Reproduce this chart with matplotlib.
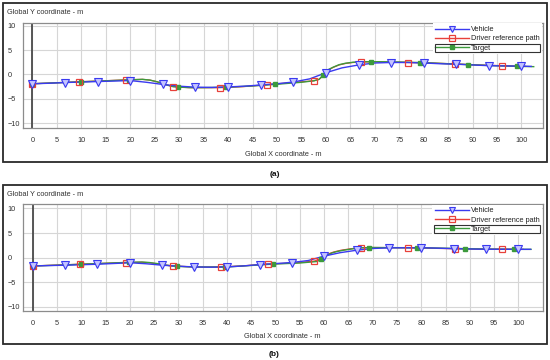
import matplotlib
matplotlib.use('Agg')
import matplotlib.pyplot as plt
from matplotlib.lines import Line2D
from matplotlib.patches import Rectangle

plt.rcParams['font.family'] = ['Liberation Sans', 'DejaVu Sans']

# ---------------- data ----------------
x_ticks = [0, 5, 10, 15, 20, 25, 30, 35, 40, 45, 50, 55, 60, 65, 70, 75, 80, 85, 90, 95, 100]
y_ticks = [-10, -5, 0, 5, 10]
series_names = ["Vehicle", "Driver reference path", "Target"]
x_title = "Global X coordinate - m"
y_title = "Global Y coordinate - m"
panel_labels = ["(a)", "(b)"]

# Panel (a)
veh_a_x = [0, 3.3, 6.7, 10, 13.3, 16.7, 20, 23.3, 26.7, 30, 33.3, 36.7, 40, 43.3, 46.7, 50,
           53.3, 56.7, 60, 63.3, 66.7, 70, 73.3, 76.7, 80, 83.3, 86.7, 90, 93.3, 96.7, 100, 102]
veh_a_y = [-1.9, -1.8, -1.65, -1.55, -1.45, -1.35, -1.25, -1.6, -2.05, -2.4, -2.6, -2.65, -2.55,
           -2.4, -2.15, -1.9, -1.55, -0.9, 0.35, 1.35, 1.95, 2.35, 2.45, 2.45, 2.35, 2.2, 2.1,
           1.95, 1.8, 1.75, 1.7, 1.65]
veh_a_mark_x = [0, 6.7, 13.3, 20, 26.7, 33.3, 40, 46.7, 53.3, 60, 66.7, 73.3, 80, 86.7, 93.3, 100]
veh_a_mark_y = [-1.9, -1.65, -1.45, -1.25, -2.05, -2.6, -2.55, -2.15, -1.55, 0.35, 1.95, 2.45,
                2.35, 2.1, 1.8, 1.7]

drv_a_x = [0, 9.6, 19.2, 22.5, 24, 25.5, 27, 28.8, 32, 35, 38.4, 43, 48, 52.5, 55, 57.6, 58.6,
           59.5, 60.5, 61.5, 62.7, 64, 65.5, 67.2, 70, 76.8, 81.6, 86.4, 91, 96, 100.8]
drv_a_y = [-1.9, -1.5, -1.1, -1.0, -1.15, -1.5, -2.0, -2.5, -2.7, -2.7, -2.7, -2.5, -2.1, -1.7,
           -1.5, -1.3, -1.0, -0.2, 0.9, 1.45, 1.95, 2.25, 2.45, 2.55, 2.6, 2.45, 2.35, 2.15, 1.95,
           1.8, 1.65]
drv_a_mark_x = [0, 9.6, 19.2, 28.8, 38.4, 48.0, 57.6, 67.2, 76.8, 86.4, 96.0]
drv_a_mark_y = [-1.9, -1.5, -1.1, -2.5, -2.7, -2.1, -1.3, 2.55, 2.45, 2.15, 1.8]

tgt_a_x = [0, 5, 10, 15, 20, 22.5, 24, 25.5, 27, 28.5, 30, 32.5, 35, 40, 45, 50, 55, 57.5, 58.6,
           59.5, 60.5, 61.5, 62.7, 64, 65.5, 67, 70, 75, 80, 85, 90, 95, 100, 102.5]
tgt_a_y = [-1.9, -1.7, -1.5, -1.3, -1.1, -1.0, -1.15, -1.5, -2.0, -2.45, -2.6, -2.7, -2.7, -2.6,
           -2.35, -2.0, -1.6, -1.3, -1.0, -0.1, 1.0, 1.5, 2.0, 2.3, 2.5, 2.6, 2.62, 2.55, 2.42,
           2.2, 1.98, 1.78, 1.65, 1.6]
tgt_a_mark_x = [0, 9.9, 19.8, 29.7, 39.6, 49.5, 59.4, 69.3, 79.2, 89.1, 99.0]
tgt_a_mark_y = [-1.9, -1.5, -1.1, -2.55, -2.6, -2.05, -0.1, 2.62, 2.42, 2.0, 1.66]

# Panel (b)
veh_b_x = [0, 3.3, 6.7, 10, 13.3, 16.7, 20, 23.3, 26.7, 30, 33.3, 36.7, 40, 43.3, 46.7, 50,
           53.3, 56.7, 60, 63.3, 66.7, 70, 73.3, 76.7, 80, 83.3, 86.7, 90, 93.3, 96.7, 100, 102.5]
veh_b_y = [-1.7, -1.62, -1.55, -1.45, -1.35, -1.2, -1.05, -1.25, -1.55, -1.75, -1.9, -1.95, -1.9,
           -1.7, -1.42, -1.22, -1.0, -0.6, 0.3, 1.0, 1.5, 1.85, 1.98, 2.0, 2.0, 1.92, 1.82, 1.75,
           1.7, 1.7, 1.68, 1.68]
veh_b_mark_x = [0, 6.7, 13.3, 20, 26.7, 33.3, 40, 46.7, 53.3, 60, 66.7, 73.3, 80, 86.7, 93.3, 100]
veh_b_mark_y = [-1.7, -1.55, -1.35, -1.05, -1.55, -1.9, -1.9, -1.42, -1.0, 0.3, 1.5, 1.98, 2.0,
                1.82, 1.7, 1.68]

drv_b_x = [0, 9.7, 19.3, 22.5, 24, 25.5, 27, 28.9, 32, 35, 38.7, 43, 48.4, 52.5, 55, 58.0,
           59.0, 60.0, 61.0, 62.0, 63.5, 65.5, 67.6, 70, 77.2, 82, 87.0, 92, 96.7, 101]
drv_b_y = [-1.7, -1.35, -1.0, -0.95, -1.05, -1.25, -1.5, -1.7, -1.85, -1.92, -1.9, -1.7, -1.3,
           -1.15, -1.0, -0.7, -0.35, 0.2, 0.8, 1.15, 1.5, 1.8, 2.0, 2.05, 2.0, 1.9, 1.8, 1.72,
           1.7, 1.68]
drv_b_mark_x = [0, 9.7, 19.3, 28.9, 38.7, 48.4, 58.0, 67.6, 77.2, 87.0, 96.7]
drv_b_mark_y = [-1.7, -1.35, -1.0, -1.7, -1.9, -1.3, -0.7, 2.0, 2.0, 1.8, 1.7]

tgt_b_x = [0, 5, 10, 15, 20, 22.5, 24, 25.5, 27, 28.5, 30, 33, 36, 40, 45, 50, 55, 58.5, 59.5,
           60.5, 61.5, 62.5, 64, 66, 68, 70, 75, 80, 85, 90, 95, 100, 102.6]
tgt_b_y = [-1.7, -1.55, -1.35, -1.15, -0.95, -0.9, -1.0, -1.2, -1.45, -1.68, -1.8, -1.9, -1.92,
           -1.9, -1.6, -1.3, -1.1, -0.8, -0.3, 0.4, 0.9, 1.2, 1.5, 1.8, 2.0, 2.05, 2.02, 2.0,
           1.9, 1.8, 1.72, 1.68, 1.68]
tgt_b_mark_x = [0, 9.9, 19.8, 29.7, 39.6, 49.5, 59.4, 69.3, 79.2, 89.1, 99.0]
tgt_b_mark_y = [-1.7, -1.35, -0.95, -1.75, -1.9, -1.3, -0.35, 2.05, 2.0, 1.8, 1.68]

# ---------------- styling ----------------
W, H = 550, 360
FS = 5.3
C_VEH = '#3a3af0'
C_VEH_FACE = '#c4c4ff'
C_DRV = '#e8403a'
C_TGT = '#3c9a3c'
C_GRID = '#d6d6d6'
C_TEXT = '#333333'

fig = plt.figure(figsize=(W / 100, H / 100), dpi=100)
fig.patch.set_facecolor('white')


def fx(px):
    return px / W


def fy(py):
    return 1 - py / H


panels = [
    dict(box=(2.7, 3.3, 546.7, 162.0), plot=(22.7, 22.7, 543.0, 127.7),
         xlim=(-2.0, 104.4), ylim=(-10.9, 10.6), ylab_y=12.7, xlab_y=154.0, cap_y=174.0,
         veh=(veh_a_x, veh_a_y, veh_a_mark_x, veh_a_mark_y),
         drv=(drv_a_x, drv_a_y, drv_a_mark_x, drv_a_mark_y),
         tgt=(tgt_a_x, tgt_a_y, tgt_a_mark_x, tgt_a_mark_y)),
    dict(box=(2.7, 185.0, 546.7, 344.0), plot=(22.7, 204.0, 542.7, 310.7),
         xlim=(-2.06, 105.0), ylim=(-10.8, 10.9), ylab_y=195.0, xlab_y=336.0, cap_y=354.3,
         veh=(veh_b_x, veh_b_y, veh_b_mark_x, veh_b_mark_y),
         drv=(drv_b_x, drv_b_y, drv_b_mark_x, drv_b_mark_y),
         tgt=(tgt_b_x, tgt_b_y, tgt_b_mark_x, tgt_b_mark_y)),
]

legends = []
for i, p in enumerate(panels):
    bx0, by0, bx1, by1 = p['box']
    fig.add_artist(Rectangle((fx(bx0), fy(by1)), (bx1 - bx0) / W, (by1 - by0) / H,
                             transform=fig.transFigure, fill=False, ec='#2a2a2a', lw=1.3))
    l, t, r, b = p['plot']
    ax = fig.add_axes([fx(l), fy(b), (r - l) / W, (b - t) / H])
    ax.set_xlim(*p['xlim'])
    ax.set_ylim(*p['ylim'])
    ax.set_xticks(x_ticks)
    ax.set_yticks(y_ticks)
    ax.grid(True, color=C_GRID, lw=0.8)
    ax.set_axisbelow(True)
    for s in ax.spines.values():
        s.set_color('#8c8c8c')
        s.set_linewidth(0.9)
    ax.axvline(0, color='#4a4a4a', lw=1.3, zorder=1.5)
    ax.tick_params(axis='x', length=0, pad=6.4, labelsize=FS, labelcolor=C_TEXT)
    ax.tick_params(axis='y', length=0, pad=10.9, labelsize=FS, labelcolor=C_TEXT)
    for lab in ax.get_yticklabels():
        lab.set_horizontalalignment('left')

    vx, vy, vmx, vmy = p['veh']
    dx, dy, dmx, dmy = p['drv']
    tx, ty, tmx, tmy = p['tgt']
    ax.plot(dx, dy, color=C_DRV, lw=0.9, zorder=2)
    ax.plot(tx, ty, color=C_TGT, lw=1.0, zorder=3)
    ax.plot(vx, vy, color=C_VEH, lw=1.0, zorder=4)
    ax.plot(tmx, tmy, ls='none', marker='s', ms=2.6, mfc=C_TGT, mec=C_TGT, zorder=5)
    ax.plot(dmx, dmy, ls='none', marker='s', ms=5.0, mfc='none', mec=C_DRV, mew=0.9, zorder=6)
    ax.plot(vmx, vmy, ls='none', marker='v', ms=5.4, mfc=C_VEH_FACE, mec=C_VEH, mew=0.8, zorder=7)

    handles = [
        Line2D([], [], color=C_VEH, lw=1.0, marker='v', ms=5.0, mfc=C_VEH_FACE, mec=C_VEH, mew=0.8),
        Line2D([], [], color=C_DRV, lw=1.0, marker='s', ms=4.6, mfc='none', mec=C_DRV, mew=0.9),
        Line2D([], [], color=C_TGT, lw=1.0, marker='s', ms=2.6, mfc=C_TGT, mec=C_TGT),
    ]
    leg = ax.legend(handles, series_names, loc='upper right', bbox_to_anchor=(1.0, 1.0),
                    borderaxespad=0.1, fontsize=FS, handlelength=4.6, handletextpad=0.25,
                    labelspacing=0.28, borderpad=0.35, frameon=True, fancybox=False,
                    edgecolor='none', facecolor='white', framealpha=1.0)
    for txt in leg.get_texts():
        txt.set_color('#222222')
    legends.append(leg)

    fig.text(fx(6.7), fy(p['ylab_y']), y_title, fontsize=FS, color=C_TEXT,
             ha='left', va='center')
    fig.text(fx((l + r) / 2), fy(p['xlab_y']), x_title, fontsize=FS, color=C_TEXT,
             ha='center', va='center')
    fig.text(fx(274.5), fy(p['cap_y']), panel_labels[i], fontsize=6.0, fontweight='bold',
             color='#111111', ha='center', va='center')

# focus rectangle around the "Target" legend entry
fig.canvas.draw()
renderer = fig.canvas.get_renderer()
for leg in legends:
    lb = leg.get_window_extent(renderer)
    tb = leg.get_texts()[2].get_window_extent(renderer)
    x0 = lb.x0 + 2
    x1 = lb.x1 - 2
    y0 = tb.y0 - 0.5
    y1 = tb.y1 + 0.5
    fig.add_artist(Rectangle((x0 / W, y0 / H), (x1 - x0) / W, (y1 - y0) / H,
                             transform=fig.transFigure, fill=False, ec='#333333', lw=0.8,
                             zorder=10))

fig.savefig('out.png', dpi=100, facecolor='white')
